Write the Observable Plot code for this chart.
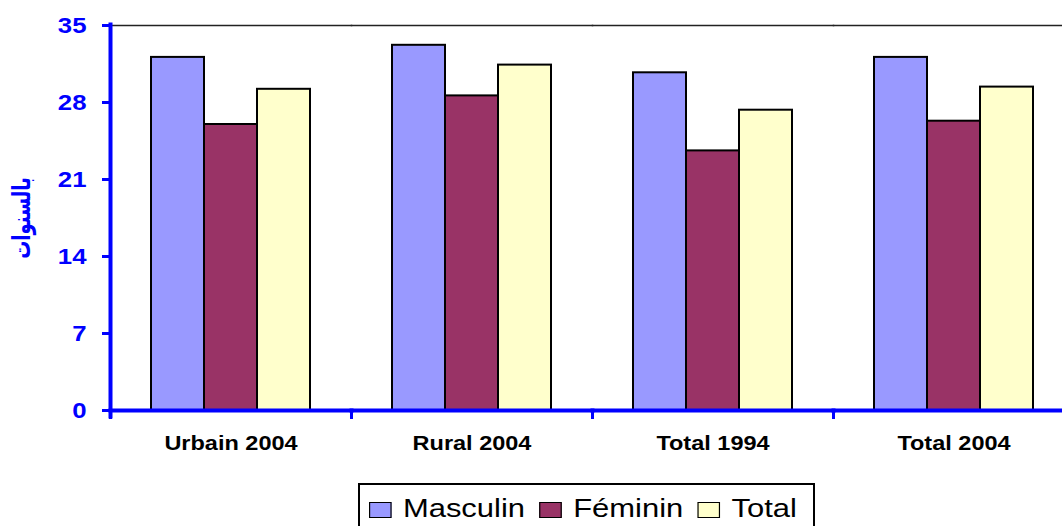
<!DOCTYPE html>
<html>
<head>
<meta charset="utf-8">
<script src="https://cdn.jsdelivr.net/npm/d3@7"></script>
<script src="https://cdn.jsdelivr.net/npm/@observablehq/plot@0.6"></script>
<style>
  html, body { margin: 0; padding: 0; background: #fff; overflow: hidden; width: 1062px; height: 526px; }
  #wrap { position: relative; width: 1075px; height: 526px; }
  #chart svg { display: block; }
  #legend {
    position: absolute; left: 358px; top: 483px; width: 457px; height: 60px;
    border: 2px solid #000; box-sizing: border-box; background: #fff;
    font-family: "Liberation Sans", Arial, sans-serif; font-size: 26px; color: #000;
  }
  #legendInner {
    position: absolute; left: 9px; top: 8px;
    display: flex; align-items: center; white-space: nowrap;
    transform: scaleX(1.19); transform-origin: 0 0;
  }
  .item { display: flex; align-items: center; margin-right: 12px; }
  .sw { box-sizing: border-box; width: 18.5px; height: 16.5px; border: 1.5px solid #000; margin-right: 10px; margin-top: 3px; }
</style>
</head>
<body>
<div id="wrap">
  <div id="chart"></div>
  <div id="legend"><div id="legendInner"></div></div>
</div>
<script>
const categories = ["Urbain 2004", "Rural 2004", "Total 1994", "Total 2004"];
const series = ["Masculin", "Féminin", "Total"];
const masculin = [32.1, 33.2, 30.7, 32.1];
const feminin = [26.0, 28.6, 23.6, 26.3];
const total = [29.2, 31.4, 27.3, 29.4];
const colors = ["#9999FF", "#993366", "#FFFFCC"];
const yTicks = [0, 7, 14, 21, 28, 35];
const yLabel = "بالسنوات";

const valuesBySeries = [masculin, feminin, total];
const data = [];
categories.forEach((c, i) => {
  series.forEach((s, j) => data.push({cat: c, series: s, value: valuesBySeries[j][i]}));
});

const W = 1075, H = 470, mT = 25, mB = 60, mL = 109, mR = 0;
const blue = "#0000FF";
const stretch = 1.19;

const chart = Plot.plot({
  width: W, height: H,
  marginLeft: mL, marginRight: mR, marginTop: mT, marginBottom: mB,
  style: {fontFamily: "'Liberation Sans', Arial, sans-serif", background: "#fff", overflow: "visible"},
  fx: {domain: categories, padding: 0, label: null},
  x: {domain: series, paddingInner: 0, paddingOuter: 0.748, axis: null},
  y: {domain: [0, 35]},
  color: {domain: series, range: colors},
  marks: [
    Plot.frame({anchor: "top", stroke: "#222", strokeWidth: 1.5}),
    Plot.barY(data, {fx: "cat", x: "series", y: "value", fill: "series", stroke: "#000", strokeWidth: 2, inset: 0}),
    Plot.frame({anchor: "bottom", stroke: blue, strokeWidth: 4}),
    Plot.frame({anchor: "left", stroke: blue, strokeWidth: 3, insetTop: H - mT - mB, insetBottom: -7}),
    Plot.frame({anchor: "left", facetAnchor: "left", stroke: blue, strokeWidth: 4, insetTop: -1, insetBottom: -6}),
    Plot.axisY({
      ticks: yTicks, tickSize: 8, tickPadding: 16, color: blue, strokeWidth: 3,
      fontSize: 23, fontWeight: "bold",
      label: yLabel, labelAnchor: "center", labelArrow: "none", labelOffset: 98
    }),
    Plot.axisFx({anchor: "bottom", tickSize: 0, tickPadding: 25, fontSize: 21, fontWeight: "bold", color: "#000", label: null})
  ]
});
document.getElementById("chart").appendChild(chart);

// horizontal stretch of glyphs, as in the reference
function stretchTexts(sel, sx, sy) {
  chart.querySelectorAll(sel).forEach(t => {
    const tr = t.getAttribute("transform") || "";
    t.setAttribute("transform", (tr + ` scale(${sx},${sy})`).trim());
  });
}
chart.querySelectorAll('g[aria-label="y-axis tick label"]').forEach(g => {
  g.setAttribute("font-size", "23");
  g.setAttribute("font-weight", "bold");
});
stretchTexts('g[aria-label="y-axis tick label"] text', 1.12, 1);
stretchTexts('g[aria-label="fx-axis tick label"] text', 1.12, 1);
chart.querySelectorAll('g[aria-label="y-axis label"] text').forEach(t => {
  t.setAttribute("font-weight", "bold");
  t.setAttribute("font-size", "18");
  t.setAttribute("font-family", "'DejaVu Sans', sans-serif");
});
stretchTexts('g[aria-label="y-axis label"] text', 1, 1.4);

const legendInner = document.getElementById("legendInner");
series.forEach((s, i) => {
  const item = document.createElement("div");
  item.className = "item";
  const sw = document.createElement("div");
  sw.className = "sw";
  sw.style.background = colors[i];
  const tx = document.createElement("span");
  tx.textContent = s;
  item.appendChild(sw);
  item.appendChild(tx);
  legendInner.appendChild(item);
});
</script>
</body>
</html>
